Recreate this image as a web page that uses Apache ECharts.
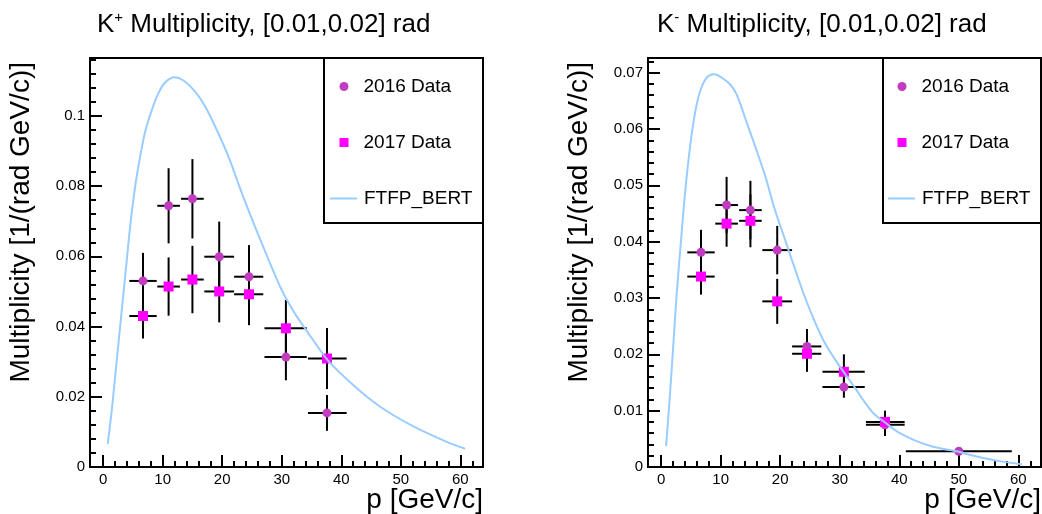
<!DOCTYPE html>
<html><head><meta charset="utf-8">
<script src="https://cdn.jsdelivr.net/npm/echarts@6/dist/echarts.min.js"></script>
<style>html,body{margin:0;padding:0;background:#fff}#c{width:1042px;height:514px}</style>
</head><body><div id="c"></div>
<script>
const FONT = "'Liberation Sans', Arial, Helvetica, sans-serif";

// momentum bins (GeV/c)
const binLow  = [4.4, 9.1, 13.1, 17.0, 22.0, 27.1, 34.4, 41.1];
const binHigh = [9.0, 12.9, 16.9, 22.0, 26.9, 34.2, 40.9, 58.9];
const pMean   = [6.7, 11.0, 15.0, 19.5, 24.5, 30.7, 37.6, 50.0];

// K+ multiplicity
const kPlus2016    = [0.0530, 0.0744, 0.0764, 0.0599, 0.0542, 0.0313, 0.0154];
const kPlus2016Err = [0.0080, 0.0107, 0.0113, 0.0100, 0.0090, 0.0066, 0.0051];
const kPlus2017    = [0.0430, 0.0514, 0.0534, 0.0500, 0.0492, 0.0395, 0.0309];
const kPlus2017Err = [0.0064, 0.0083, 0.0096, 0.0088, 0.0088, 0.0081, 0.0087];

// K- multiplicity
const kMinus2016    = [0.0381, 0.0465, 0.0456, 0.0385, 0.0214, 0.0142, 0.0075, 0.0028];
const kMinus2016Err = [0.0040, 0.0050, 0.0052, 0.0043, 0.0031, 0.0019, 0.0020, 0.0002];
const kMinus2017    = [0.0338, 0.0432, 0.0437, 0.0294, 0.0201, 0.0169, 0.0080];
const kMinus2017Err = [0.0032, 0.0041, 0.0047, 0.0040, 0.0032, 0.0031, 0.0020];

// FTFP_BERT prediction curves
const ftfpPlusP = [0.78, 1.46, 2.02, 2.86, 3.70, 4.54, 5.38, 6.22, 7.06, 8.18, 9.3, 10.42, 11.99, 13.5, 15.46, 17.14, 18.82, 21.06, 23.3, 25.5, 27.8, 30.0, 32.2, 33.9, 35.3, 37.5, 39.8, 42.1, 44.3, 46.6, 49.4, 52.2, 55.0, 57.8, 60.8];
const ftfpPlusM = [0.0066, 0.0162, 0.0257, 0.0400, 0.0542, 0.0685, 0.0799, 0.0884, 0.0955, 0.1017, 0.1065, 0.1095, 0.1110, 0.1101, 0.1069, 0.1027, 0.0970, 0.0884, 0.0780, 0.0685, 0.0590, 0.0504, 0.0437, 0.0395, 0.0361, 0.0309, 0.0268, 0.0232, 0.0200, 0.0171, 0.0141, 0.0115, 0.0092, 0.0071, 0.0052];
const ftfpMinusP = [0.84, 1.51, 2.07, 2.63, 3.36, 4.03, 4.87, 5.71, 6.55, 7.67, 8.96, 10.19, 11.6, 12.7, 14.1, 15.8, 17.5, 19.1, 20.8, 22.5, 24.2, 25.9, 27.5, 29.2, 30.9, 32.6, 34.0, 35.7, 37.6, 40.1, 42.9, 45.7, 48.5, 50.0, 51.3, 54.1, 57.0, 60.6];
const ftfpMinusM = [0.0037, 0.0132, 0.0220, 0.0309, 0.0404, 0.0487, 0.0569, 0.0629, 0.0667, 0.0691, 0.0697, 0.0691, 0.0679, 0.0661, 0.0620, 0.0569, 0.0516, 0.0457, 0.0404, 0.0351, 0.0300, 0.0256, 0.0220, 0.0191, 0.0165, 0.0140, 0.0118, 0.0095, 0.0079, 0.0060, 0.0046, 0.0036, 0.0030, 0.0027, 0.0023, 0.0016, 0.0010, 0.0005];

// axis ticks
const xMajor = [0, 10, 20, 30, 40, 50, 60];
const xMinor = [2, 4, 6, 8, 12, 14, 16, 18, 22, 24, 26, 28, 32, 34, 36, 38, 42, 44, 46, 48, 52, 54, 56, 58, 62];
const yMajorPlus = [0, 0.02, 0.04, 0.06, 0.08, 0.1];
const yMinorPlus = [0, 0.004, 0.008, 0.012, 0.016, 0.02, 0.024, 0.028, 0.032, 0.036, 0.04, 0.044, 0.048, 0.052, 0.056, 0.06, 0.064, 0.068, 0.072, 0.076, 0.08, 0.084, 0.088, 0.092, 0.096, 0.1, 0.104, 0.108, 0.112, 0.116];
const yMajorMinus = [0, 0.01, 0.02, 0.03, 0.04, 0.05, 0.06, 0.07];
const yMinorMinus = [0, 0.002, 0.004, 0.006, 0.008, 0.01, 0.012, 0.014, 0.016, 0.018, 0.02, 0.022, 0.024, 0.026, 0.028, 0.03, 0.032, 0.034, 0.036, 0.038, 0.04, 0.042, 0.044, 0.046, 0.048, 0.05, 0.052, 0.054, 0.056, 0.058, 0.06, 0.062, 0.064, 0.066, 0.068, 0.07, 0.072];

const COL2016 = '#c23cc2';
const COL2017 = '#ff00ff';
const COLMC = '#99ccff';

// plot frame geometry
const X_MIN = -2.2, X_MAX = 63.8;
const PLOT_W = 393, PLOT_H = 409, PLOT_TOP = 58;
const PANEL_LEFT = [90, 648];

function errData(vals, errs) {
  return vals.map((v, i) => [pMean[i], v, binLow[i], binHigh[i], errs[i]]);
}
function ptData(vals) { return vals.map((v, i) => [pMean[i], v]); }
function curveData(ps, ms) { return ps.map((p, i) => [p, ms[i]]); }

function errRender(params, api) {
  const x = api.value(0), y = api.value(1), xl = api.value(2), xh = api.value(3), e = api.value(4);
  const a = api.coord([xl, y]), b = api.coord([xh, y]);
  const t = api.coord([x, y + e]), d = api.coord([x, y - e]);
  return { type: 'group', children: [
    { type: 'line', shape: { x1: a[0], y1: a[1], x2: b[0], y2: b[1] }, style: { stroke: '#000', lineWidth: 2 } },
    { type: 'line', shape: { x1: t[0], y1: t[1], x2: d[0], y2: d[1] }, style: { stroke: '#000', lineWidth: 2 } }
  ] };
}

function xAxis(grid) {
  return { gridIndex: grid, type: 'value', position: 'bottom', min: X_MIN, max: X_MAX,
    axisLine: { show: false, onZero: false }, splitLine: { show: false }, axisTick: { show: false },
    axisLabel: { show: true, customValues: xMajor, color: '#000', fontSize: 15, fontFamily: FONT, margin: 5 } };
}
function yAxes(grid, maxV, major, minor) {
  return [
    { gridIndex: grid, type: 'value', position: 'left', min: 0, max: maxV,
      axisLine: { show: false, onZero: false }, splitLine: { show: false },
      axisTick: { show: true, inside: true, length: 12, customValues: major, lineStyle: { color: '#000', width: 2 } },
      axisLabel: { show: true, customValues: major, color: '#000', fontSize: 15, fontFamily: FONT, margin: 5 } },
    { gridIndex: grid, type: 'value', position: 'left', offset: 0, min: 0, max: maxV,
      axisLine: { show: false, onZero: false }, splitLine: { show: false },
      axisTick: { show: true, inside: true, length: 6, customValues: minor, lineStyle: { color: '#000', width: 2 } },
      axisLabel: { show: false } }
  ];
}

// tick-only grids: start exactly at p = 0 so that the tick interval counts from 0
const pxPerUnit = PLOT_W / (X_MAX - X_MIN);
function tickGrid(panel, maxP) {
  return { left: PANEL_LEFT[panel] + (0 - X_MIN) * pxPerUnit, top: PLOT_TOP,
    width: maxP * pxPerUnit, height: PLOT_H, show: false };
}
function tickXAxis(grid, maxP, interval, len) {
  return { gridIndex: grid, type: 'value', position: 'bottom', min: 0, max: maxP, interval: interval,
    axisLine: { show: false, onZero: false }, splitLine: { show: false }, axisLabel: { show: false },
    axisTick: { show: true, inside: true, length: len, lineStyle: { color: '#000', width: 2 } } };
}
function tickYAxis(grid) {
  return { gridIndex: grid, type: 'value', min: 0, max: 1, show: false };
}

function panelSeries(xi, yi, d16, e16, d17, e17, cp, cm) {
  return [
    { name: 'err2016', type: 'custom', xAxisIndex: xi, yAxisIndex: yi, renderItem: errRender,
      encode: { x: [0, 2, 3], y: [1, 4] }, data: errData(d16, e16), z: 2, silent: true },
    { name: 'err2017', type: 'custom', xAxisIndex: xi, yAxisIndex: yi, renderItem: errRender,
      encode: { x: [0, 2, 3], y: [1, 4] }, data: errData(d17, e17), z: 2, silent: true },
    { name: '2016 Data', type: 'scatter', xAxisIndex: xi, yAxisIndex: yi, symbol: 'circle', symbolSize: 9,
      itemStyle: { color: COL2016, opacity: 1 }, data: ptData(d16), z: 3 },
    { name: '2017 Data', type: 'scatter', xAxisIndex: xi, yAxisIndex: yi, symbol: 'rect', symbolSize: 10,
      itemStyle: { color: COL2017, opacity: 1 }, data: ptData(d17), z: 3 },
    { name: 'FTFP_BERT', type: 'line', xAxisIndex: xi, yAxisIndex: yi, symbol: 'none', smooth: 0.3,
      lineStyle: { color: COLMC, width: 2 }, itemStyle: { color: COLMC }, data: curveData(cp, cm), z: 4 }
  ];
}

function legendItem(left, top, name, icon, w, h, padLeft) {
  return { left: left, top: top, orient: 'vertical', itemWidth: w, itemHeight: h,
    selectedMode: false, z: 10, padding: 0,
    data: [{ name: name, icon: icon }],
    textStyle: { fontSize: 19, fontFamily: FONT, color: '#000', lineHeight: 20, padding: [0, 0, 0, padLeft] } };
}
function legendsAt(dx) {
  return [
    legendItem(339.5 + dx, 76.5, '2016 Data', 'circle', 9, 9, 10),
    legendItem(339.5 + dx, 132.5, '2017 Data', 'rect', 9, 9, 10),
    legendItem(330 + dx, 188.5, 'FTFP_BERT', 'path://M0,0H27V2H0Z', 27, 2, 2)
  ];
}

function titleAt(left, charge) {
  return { left: left, top: 10, padding: 0,
    text: '{b|K}{s|' + charge + '}{b| Multiplicity, [0.01,0.02] rad}',
    textStyle: { fontWeight: 'normal', rich: {
      b: { fontSize: 26, fontFamily: FONT, fontWeight: 'normal', color: '#000', lineHeight: 30 },
      s: { fontSize: 15, fontFamily: FONT, fontWeight: 'normal', color: '#000', lineHeight: 16, verticalAlign: 'top' } } } };
}

const chart = echarts.init(document.getElementById('c'), null, { renderer: 'canvas' });
chart.setOption({
  animation: false,
  backgroundColor: '#fff',
  title: [titleAt(97, '+'), titleAt(657, '-')],
  grid: [
    { left: PANEL_LEFT[0], top: PLOT_TOP, width: PLOT_W, height: PLOT_H, show: true, borderColor: '#000', borderWidth: 2, backgroundColor: 'transparent' },
    { left: PANEL_LEFT[1], top: PLOT_TOP, width: PLOT_W, height: PLOT_H, show: true, borderColor: '#000', borderWidth: 2, backgroundColor: 'transparent' },
    tickGrid(0, 60), tickGrid(0, 62), tickGrid(1, 60), tickGrid(1, 62)
  ],
  xAxis: [xAxis(0), xAxis(1),
    tickXAxis(2, 60, 10, 12), tickXAxis(3, 62, 2, 6), tickXAxis(4, 60, 10, 12), tickXAxis(5, 62, 2, 6)],
  yAxis: yAxes(0, 0.1165, yMajorPlus, yMinorPlus).concat(yAxes(1, 0.0726, yMajorMinus, yMinorMinus))
    .concat([tickYAxis(2), tickYAxis(3), tickYAxis(4), tickYAxis(5)]),
  legend: legendsAt(0).concat(legendsAt(558)),
  series: panelSeries(0, 0, kPlus2016, kPlus2016Err, kPlus2017, kPlus2017Err, ftfpPlusP, ftfpPlusM)
    .concat(panelSeries(1, 2, kMinus2016, kMinus2016Err, kMinus2017, kMinus2017Err, ftfpMinusP, ftfpMinusM)),
  graphic: [
    { type: 'rect', z: 5, shape: { x: 324, y: 58, width: 159, height: 165 }, style: { fill: '#fff', stroke: '#000', lineWidth: 2 } },
    { type: 'rect', z: 5, shape: { x: 883, y: 58, width: 158, height: 165 }, style: { fill: '#fff', stroke: '#000', lineWidth: 2 } },
    { type: 'text', x: 21, y: 62, rotation: Math.PI / 2, style: { text: 'Multiplicity [1/(rad GeV/c)]', font: '28px ' + FONT, fill: '#000', textAlign: 'right', textVerticalAlign: 'middle' } },
    { type: 'text', x: 579, y: 62, rotation: Math.PI / 2, style: { text: 'Multiplicity [1/(rad GeV/c)]', font: '28px ' + FONT, fill: '#000', textAlign: 'right', textVerticalAlign: 'middle' } },
    { type: 'text', x: 483, y: 500, style: { text: 'p [GeV/c]', font: '28px ' + FONT, fill: '#000', textAlign: 'right', textVerticalAlign: 'middle' } },
    { type: 'text', x: 1041, y: 500, style: { text: 'p [GeV/c]', font: '28px ' + FONT, fill: '#000', textAlign: 'right', textVerticalAlign: 'middle' } }
  ]
});
</script>
</body></html>
